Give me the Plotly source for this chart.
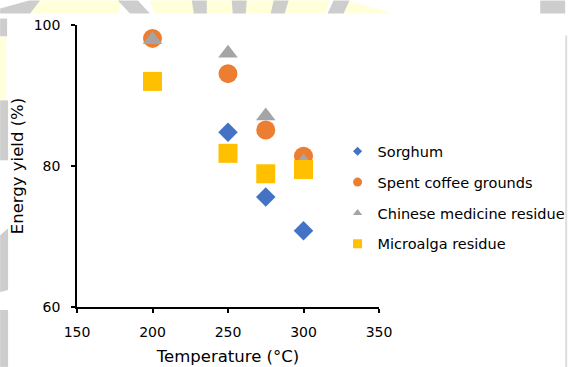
import plotly.graph_objects as go

# Hydrothermal carbonisation: energy yield vs. reaction temperature
temperature = [200, 250, 275, 300]

sorghum = [None, 84.8, 75.6, 70.8]
coffee_grounds = [98.1, 93.1, 85.1, 81.4]
medicine_residue = [97.9, 96.0, 87.1, 80.6]
microalga_residue = [92.0, 81.8, 78.9, 79.5]

# name, values, symbol, colour, marker size, legend symbol size
series = [
    ("Sorghum", sorghum, "diamond", "#4472C4", 15, 7),
    ("Spent coffee grounds", coffee_grounds, "circle", "#ED7D31", 19, 9),
    ("Chinese medicine residue", medicine_residue, "triangle-up", "#A5A5A5", 17, 8),
    ("Microalga residue", microalga_residue, "square", "#FFC000", 19, 9),
]

x_ticks = [150, 200, 250, 300, 350]
y_ticks = [60, 80, 100]

W, H = 569, 367
L, R, T, B = 77, 379.5, 24.5, 307  # plot area in pixels

fig = go.Figure()
for name, vals, sym, col, size, _ in series:
    xs = [t for t, v in zip(temperature, vals) if v is not None]
    ys = [v for v in vals if v is not None]
    fig.add_trace(go.Scatter(
        x=xs, y=ys, mode="markers", name=name, legendgroup=name, showlegend=False,
        marker=dict(symbol=sym, color=col, size=size, line=dict(width=0)),
    ))
# smaller symbols for the legend keys
for name, _, sym, col, _, lsize in series:
    fig.add_trace(go.Scatter(
        x=[None], y=[None], mode="markers", name=name, legendgroup=name,
        marker=dict(symbol=sym, color=col, size=lsize, line=dict(width=0)),
    ))


def px(x):
    return (x - L) / (R - L)


def py(y):
    return (B - y) / (B - T)


GRAY = "#CDCDCD"
YEL = "#FFFFDA"
shapes = []


def poly(points, color):
    d = "M " + " L ".join(f"{px(a):.5f},{py(b):.5f}" for a, b in points) + " Z"
    shapes.append(dict(type="path", path=d, xref="paper", yref="paper",
                       fillcolor=color, line=dict(width=0), layer="below"))


# faint background artwork around the chart frame
TOP = 13
poly([(29, 0), (122, 0), (118, TOP), (29, TOP)], YEL)
poly([(150, 0), (330, 0), (325, TOP), (155, TOP)], YEL)
poly([(348, 0), (395, TOP), (342, TOP)], YEL)
poly([(0, TOP), (0, 8), (29, 0), (40, 0), (30, TOP)], GRAY)
poly([(118, 0), (138, 0), (150, TOP), (130, TOP)], GRAY)
poly([(192, 0), (207, 0), (207, TOP), (194, TOP)], GRAY)
poly([(232, 0), (247, 0), (246, TOP), (233, TOP)], GRAY)
poly([(274, 0), (289, 0), (285, TOP), (271, TOP)], GRAY)
poly([(334, 0), (350, 0), (344, TOP), (328, TOP)], GRAY)
poly([(541, 0), (566, 0), (566, TOP), (541, TOP)], GRAY)
poly([(0, 18), (7, 18), (7, 36), (0, 36)], GRAY)
poly([(0, 36), (6, 36), (6, 100), (0, 100)], YEL)
poly([(0, 100), (8, 100), (8, 160), (0, 160)], GRAY)
poly([(0, 235), (8, 228), (8, 290), (0, 292)], GRAY)
poly([(0, 310), (8, 310), (8, 367), (0, 367)], GRAY)
poly([(566, 35), (568, 35), (568, 367), (566, 367)], "#DDDDDD")

fig.update_layout(
    width=W, height=H,
    margin=dict(l=L, r=W - R, t=T, b=H - B, autoexpand=False),
    paper_bgcolor="white", plot_bgcolor="rgba(0,0,0,0)",
    font=dict(family="DejaVu Sans", size=14, color="#000000"),
    showlegend=True,
    legend=dict(
        x=px(338), y=py(135), xanchor="left", yanchor="top",
        bgcolor="rgba(0,0,0,0)", itemsizing="trace",
        font=dict(size=14.5), tracegroupgap=9, itemwidth=30,
    ),
    shapes=shapes,
    xaxis=dict(
        range=[150, 350], tickvals=x_ticks, ticktext=[str(v) for v in x_ticks],
        showgrid=False, zeroline=False, showline=True, linecolor="black",
        linewidth=1.5, ticks="outside", ticklen=4, tickwidth=1.5, tickcolor="black",
        title=dict(text="Temperature (°C)", font=dict(size=16.5), standoff=12),
        tickfont=dict(size=14), automargin=True, ticklabelstandoff=7,
    ),
    yaxis=dict(
        range=[60, 100], tickvals=y_ticks, ticktext=[str(v) for v in y_ticks],
        showgrid=False, zeroline=False, showline=True, linecolor="black",
        linewidth=1.5, ticks="outside", ticklen=4, tickwidth=1.5, tickcolor="black",
        title=dict(text="Energy yield (%)", font=dict(size=16.5), standoff=6),
        tickfont=dict(size=14), automargin=True, ticklabelstandoff=8,
    ),
)

fig.write_html("out.html")
